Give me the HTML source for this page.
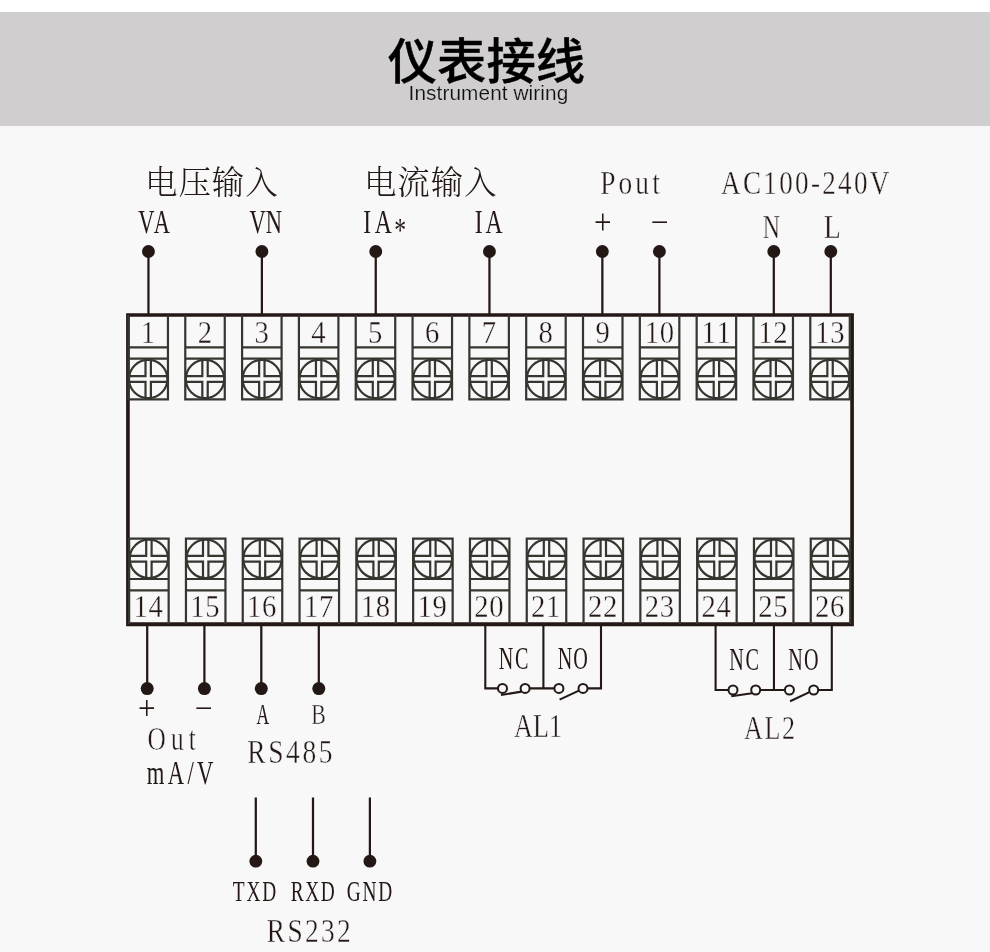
<!DOCTYPE html>
<html lang="zh-CN">
<head>
<meta charset="utf-8">
<title>仪表接线 Instrument wiring</title>
<style>
html,body{margin:0;padding:0}
body{width:990px;height:952px;position:relative;overflow:hidden;background:#f8f8f8;color:#231815;font-family:"Liberation Sans","Noto Sans CJK SC",sans-serif}
.strip{position:absolute;left:0;top:0;width:990px;height:12px;background:#fff}
.band{position:absolute;left:0;top:11.7px;width:990px;height:114.3px;background:#d0cece}
svg{position:absolute;left:0;top:0;width:990px;height:952px;display:block;will-change:transform}
svg text{font-family:"Liberation Serif","Noto Serif CJK SC",serif;fill:#231815}
svg text.m{text-anchor:middle}
svg text{font-kerning:none}
svg .num text,svg .lab text.t{stroke:#f8f8f8;stroke-width:0.35px;vector-effect:non-scaling-stroke;paint-order:fill stroke}
svg text.ttl{font-family:"Liberation Sans","Noto Sans CJK SC",sans-serif;font-weight:500;fill:#000;stroke:#000;stroke-width:0.4px;stroke-linejoin:round;text-anchor:middle}
svg text.sub{font-family:"Liberation Sans","Noto Sans CJK SC",sans-serif;font-weight:400;fill:#111;text-anchor:middle;stroke:#d0cece;stroke-width:0.2px;paint-order:fill stroke}

svg text.cjk{font-family:"Liberation Serif","Noto Serif CJK SC",serif;font-weight:300}
</style>
</head>
<body>
<div class="strip"></div>
<div class="band"></div>
<svg width="990" height="952" viewBox="0 0 990 952">
<text class="ttl" x="486.4" y="79" font-size="49.3">仪表接线</text>
<text class="sub" x="488.45" y="99.6" font-size="20.8" letter-spacing="0.08">Instrument wiring</text>
<g fill="none" stroke="#231815" stroke-width="2.25">
<path d="M148.45 251V314"/>
<path d="M261.9 251V314"/>
<path d="M375.75 251V314"/>
<path d="M489.45 251V314"/>
<path d="M602.35 251V314"/>
<path d="M659.4 251V314"/>
<path d="M773.8 251V314"/>
<path d="M830.8 251V314"/>
<path d="M147.2 625V689"/>
<path d="M204.4 625V689"/>
<path d="M261.3 625V689"/>
<path d="M318.8 625V689"/>
<path d="M255.8 797.5V861"/>
<path d="M313 797.5V861"/>
<path d="M369.9 797.5V861"/>
</g>
<g fill="#231815">
<circle cx="148.45" cy="251.5" r="6.45"/>
<circle cx="261.9" cy="251.5" r="6.45"/>
<circle cx="375.75" cy="251.5" r="6.45"/>
<circle cx="489.45" cy="251.5" r="6.45"/>
<circle cx="602.35" cy="251.5" r="6.45"/>
<circle cx="659.4" cy="251.5" r="6.45"/>
<circle cx="773.8" cy="251.5" r="6.45"/>
<circle cx="830.8" cy="251.5" r="6.45"/>
<circle cx="147.2" cy="688.6" r="6.5"/>
<circle cx="204.4" cy="688.6" r="6.5"/>
<circle cx="261.3" cy="688.6" r="6.5"/>
<circle cx="318.8" cy="688.6" r="6.5"/>
<circle cx="255.8" cy="861.2" r="6.4"/>
<circle cx="313" cy="861.2" r="6.4"/>
<circle cx="369.9" cy="861.2" r="6.4"/>
</g>
<path d="M485.3 625V688.4H498M529.6 688.4H554.4M543.4 625V689.45M587.5 688.4H601V625" fill="none" stroke="#231815" stroke-width="2.1"/>
<path d="M501 695L521.5 691.6M559.6 699.6L579.5 690.4" fill="none" stroke="#231815" stroke-width="2.1"/>
<circle cx="502.5" cy="688.4" r="4.5" fill="#f8f8f8" stroke="#231815" stroke-width="2"/>
<circle cx="525.1" cy="688.4" r="4.5" fill="#f8f8f8" stroke="#231815" stroke-width="2"/>
<circle cx="558.9" cy="688.4" r="4.5" fill="#f8f8f8" stroke="#231815" stroke-width="2"/>
<circle cx="583" cy="688.4" r="4.5" fill="#f8f8f8" stroke="#231815" stroke-width="2"/>
<path d="M715.6 625V690H728.5M760.2 690H784.9M773.95 625V691.05M818.2 690H831.8V625" fill="none" stroke="#231815" stroke-width="2.1"/>
<path d="M731.3 696.3L752 693.3M790.1 701.3L810 691.9" fill="none" stroke="#231815" stroke-width="2.1"/>
<circle cx="733" cy="690" r="4.5" fill="#f8f8f8" stroke="#231815" stroke-width="2"/>
<circle cx="755.7" cy="690" r="4.5" fill="#f8f8f8" stroke="#231815" stroke-width="2"/>
<circle cx="789.4" cy="690" r="4.5" fill="#f8f8f8" stroke="#231815" stroke-width="2"/>
<circle cx="813.7" cy="690" r="4.5" fill="#f8f8f8" stroke="#231815" stroke-width="2"/>
<path d="M126.1 313.15H853.9V626.3H126.1ZM129.75 316.8V622.25H850.25V316.8Z" fill="#231815" fill-rule="evenodd"/>
<g fill="none" stroke="#35362f" stroke-width="2.2" stroke-linecap="square">
<path d="M128.45 316V399.4M167.95 316V399.4M128.45 347.3H167.95M128.45 358.6H167.95M128.45 399.4H167.95"/>
<path stroke-linecap="butt" d="M145.5 359V376.1H128.45M150.9 359V376.1H167.95M145.5 399V381.9H128.45M150.9 399V381.9H167.95"/>
<circle cx="148.2" cy="379" r="19.2"/>
<path d="M185.27 316V399.4M224.77 316V399.4M185.27 347.3H224.77M185.27 358.6H224.77M185.27 399.4H224.77"/>
<path stroke-linecap="butt" d="M202.32 359V376.1H185.27M207.72 359V376.1H224.77M202.32 399V381.9H185.27M207.72 399V381.9H224.77"/>
<circle cx="205.02" cy="379" r="19.2"/>
<path d="M242.09 316V399.4M281.59 316V399.4M242.09 347.3H281.59M242.09 358.6H281.59M242.09 399.4H281.59"/>
<path stroke-linecap="butt" d="M259.14 359V376.1H242.09M264.54 359V376.1H281.59M259.14 399V381.9H242.09M264.54 399V381.9H281.59"/>
<circle cx="261.84" cy="379" r="19.2"/>
<path d="M298.91 316V399.4M338.41 316V399.4M298.91 347.3H338.41M298.91 358.6H338.41M298.91 399.4H338.41"/>
<path stroke-linecap="butt" d="M315.96 359V376.1H298.91M321.36 359V376.1H338.41M315.96 399V381.9H298.91M321.36 399V381.9H338.41"/>
<circle cx="318.66" cy="379" r="19.2"/>
<path d="M355.73 316V399.4M395.23 316V399.4M355.73 347.3H395.23M355.73 358.6H395.23M355.73 399.4H395.23"/>
<path stroke-linecap="butt" d="M372.78 359V376.1H355.73M378.18 359V376.1H395.23M372.78 399V381.9H355.73M378.18 399V381.9H395.23"/>
<circle cx="375.48" cy="379" r="19.2"/>
<path d="M412.55 316V399.4M452.05 316V399.4M412.55 347.3H452.05M412.55 358.6H452.05M412.55 399.4H452.05"/>
<path stroke-linecap="butt" d="M429.6 359V376.1H412.55M435 359V376.1H452.05M429.6 399V381.9H412.55M435 399V381.9H452.05"/>
<circle cx="432.3" cy="379" r="19.2"/>
<path d="M469.37 316V399.4M508.87 316V399.4M469.37 347.3H508.87M469.37 358.6H508.87M469.37 399.4H508.87"/>
<path stroke-linecap="butt" d="M486.42 359V376.1H469.37M491.82 359V376.1H508.87M486.42 399V381.9H469.37M491.82 399V381.9H508.87"/>
<circle cx="489.12" cy="379" r="19.2"/>
<path d="M526.19 316V399.4M565.69 316V399.4M526.19 347.3H565.69M526.19 358.6H565.69M526.19 399.4H565.69"/>
<path stroke-linecap="butt" d="M543.24 359V376.1H526.19M548.64 359V376.1H565.69M543.24 399V381.9H526.19M548.64 399V381.9H565.69"/>
<circle cx="545.94" cy="379" r="19.2"/>
<path d="M583.01 316V399.4M622.51 316V399.4M583.01 347.3H622.51M583.01 358.6H622.51M583.01 399.4H622.51"/>
<path stroke-linecap="butt" d="M600.06 359V376.1H583.01M605.46 359V376.1H622.51M600.06 399V381.9H583.01M605.46 399V381.9H622.51"/>
<circle cx="602.76" cy="379" r="19.2"/>
<path d="M639.83 316V399.4M679.33 316V399.4M639.83 347.3H679.33M639.83 358.6H679.33M639.83 399.4H679.33"/>
<path stroke-linecap="butt" d="M656.88 359V376.1H639.83M662.28 359V376.1H679.33M656.88 399V381.9H639.83M662.28 399V381.9H679.33"/>
<circle cx="659.58" cy="379" r="19.2"/>
<path d="M696.65 316V399.4M736.15 316V399.4M696.65 347.3H736.15M696.65 358.6H736.15M696.65 399.4H736.15"/>
<path stroke-linecap="butt" d="M713.7 359V376.1H696.65M719.1 359V376.1H736.15M713.7 399V381.9H696.65M719.1 399V381.9H736.15"/>
<circle cx="716.4" cy="379" r="19.2"/>
<path d="M753.47 316V399.4M792.97 316V399.4M753.47 347.3H792.97M753.47 358.6H792.97M753.47 399.4H792.97"/>
<path stroke-linecap="butt" d="M770.52 359V376.1H753.47M775.92 359V376.1H792.97M770.52 399V381.9H753.47M775.92 399V381.9H792.97"/>
<circle cx="773.22" cy="379" r="19.2"/>
<path d="M810.29 316V399.4M849.79 316V399.4M810.29 347.3H849.79M810.29 358.6H849.79M810.29 399.4H849.79"/>
<path stroke-linecap="butt" d="M827.34 359V376.1H810.29M832.74 359V376.1H849.79M827.34 399V381.9H810.29M832.74 399V381.9H849.79"/>
<circle cx="830.04" cy="379" r="19.2"/>
<path d="M129.15 538.6V623M168.65 538.6V623M129.15 538.6H168.65M129.15 579H168.65M129.15 590.4H168.65"/>
<path stroke-linecap="butt" d="M146.2 538.8V555.9H129.15M151.6 538.8V555.9H168.65M146.2 578.8V561.7H129.15M151.6 578.8V561.7H168.65"/>
<circle cx="148.9" cy="558.8" r="19.2"/>
<path d="M185.95 538.6V623M225.45 538.6V623M185.95 538.6H225.45M185.95 579H225.45M185.95 590.4H225.45"/>
<path stroke-linecap="butt" d="M203 538.8V555.9H185.95M208.4 538.8V555.9H225.45M203 578.8V561.7H185.95M208.4 578.8V561.7H225.45"/>
<circle cx="205.7" cy="558.8" r="19.2"/>
<path d="M242.75 538.6V623M282.25 538.6V623M242.75 538.6H282.25M242.75 579H282.25M242.75 590.4H282.25"/>
<path stroke-linecap="butt" d="M259.8 538.8V555.9H242.75M265.2 538.8V555.9H282.25M259.8 578.8V561.7H242.75M265.2 578.8V561.7H282.25"/>
<circle cx="262.5" cy="558.8" r="19.2"/>
<path d="M299.55 538.6V623M339.05 538.6V623M299.55 538.6H339.05M299.55 579H339.05M299.55 590.4H339.05"/>
<path stroke-linecap="butt" d="M316.6 538.8V555.9H299.55M322 538.8V555.9H339.05M316.6 578.8V561.7H299.55M322 578.8V561.7H339.05"/>
<circle cx="319.3" cy="558.8" r="19.2"/>
<path d="M356.35 538.6V623M395.85 538.6V623M356.35 538.6H395.85M356.35 579H395.85M356.35 590.4H395.85"/>
<path stroke-linecap="butt" d="M373.4 538.8V555.9H356.35M378.8 538.8V555.9H395.85M373.4 578.8V561.7H356.35M378.8 578.8V561.7H395.85"/>
<circle cx="376.1" cy="558.8" r="19.2"/>
<path d="M413.15 538.6V623M452.65 538.6V623M413.15 538.6H452.65M413.15 579H452.65M413.15 590.4H452.65"/>
<path stroke-linecap="butt" d="M430.2 538.8V555.9H413.15M435.6 538.8V555.9H452.65M430.2 578.8V561.7H413.15M435.6 578.8V561.7H452.65"/>
<circle cx="432.9" cy="558.8" r="19.2"/>
<path d="M469.95 538.6V623M509.45 538.6V623M469.95 538.6H509.45M469.95 579H509.45M469.95 590.4H509.45"/>
<path stroke-linecap="butt" d="M487 538.8V555.9H469.95M492.4 538.8V555.9H509.45M487 578.8V561.7H469.95M492.4 578.8V561.7H509.45"/>
<circle cx="489.7" cy="558.8" r="19.2"/>
<path d="M526.75 538.6V623M566.25 538.6V623M526.75 538.6H566.25M526.75 579H566.25M526.75 590.4H566.25"/>
<path stroke-linecap="butt" d="M543.8 538.8V555.9H526.75M549.2 538.8V555.9H566.25M543.8 578.8V561.7H526.75M549.2 578.8V561.7H566.25"/>
<circle cx="546.5" cy="558.8" r="19.2"/>
<path d="M583.55 538.6V623M623.05 538.6V623M583.55 538.6H623.05M583.55 579H623.05M583.55 590.4H623.05"/>
<path stroke-linecap="butt" d="M600.6 538.8V555.9H583.55M606 538.8V555.9H623.05M600.6 578.8V561.7H583.55M606 578.8V561.7H623.05"/>
<circle cx="603.3" cy="558.8" r="19.2"/>
<path d="M640.35 538.6V623M679.85 538.6V623M640.35 538.6H679.85M640.35 579H679.85M640.35 590.4H679.85"/>
<path stroke-linecap="butt" d="M657.4 538.8V555.9H640.35M662.8 538.8V555.9H679.85M657.4 578.8V561.7H640.35M662.8 578.8V561.7H679.85"/>
<circle cx="660.1" cy="558.8" r="19.2"/>
<path d="M697.15 538.6V623M736.65 538.6V623M697.15 538.6H736.65M697.15 579H736.65M697.15 590.4H736.65"/>
<path stroke-linecap="butt" d="M714.2 538.8V555.9H697.15M719.6 538.8V555.9H736.65M714.2 578.8V561.7H697.15M719.6 578.8V561.7H736.65"/>
<circle cx="716.9" cy="558.8" r="19.2"/>
<path d="M753.95 538.6V623M793.45 538.6V623M753.95 538.6H793.45M753.95 579H793.45M753.95 590.4H793.45"/>
<path stroke-linecap="butt" d="M771 538.8V555.9H753.95M776.4 538.8V555.9H793.45M771 578.8V561.7H753.95M776.4 578.8V561.7H793.45"/>
<circle cx="773.7" cy="558.8" r="19.2"/>
<path d="M810.75 538.6V623M850.25 538.6V623M810.75 538.6H850.25M810.75 579H850.25M810.75 590.4H850.25"/>
<path stroke-linecap="butt" d="M827.8 538.8V555.9H810.75M833.2 538.8V555.9H850.25M827.8 578.8V561.7H810.75M833.2 578.8V561.7H850.25"/>
<circle cx="830.5" cy="558.8" r="19.2"/>
</g>
<g class="num">
<text class="m" transform="scale(0.92,1)" font-size="31.2" x="160.87" y="343">1</text>
<text class="m" transform="scale(0.92,1)" font-size="31.2" x="222.63" y="343">2</text>
<text class="m" transform="scale(0.92,1)" font-size="31.2" x="284.39" y="343">3</text>
<text class="m" transform="scale(0.92,1)" font-size="31.2" x="346.15" y="343">4</text>
<text class="m" transform="scale(0.92,1)" font-size="31.2" x="407.91" y="343">5</text>
<text class="m" transform="scale(0.92,1)" font-size="31.2" x="469.67" y="343">6</text>
<text class="m" transform="scale(0.92,1)" font-size="31.2" x="531.43" y="343">7</text>
<text class="m" transform="scale(0.92,1)" font-size="31.2" x="593.2" y="343">8</text>
<text class="m" transform="scale(0.92,1)" font-size="31.2" x="654.96" y="343">9</text>
<text class="m" transform="scale(0.92,1)" font-size="31.2" x="708.57 724.87" y="343">10</text>
<text class="m" transform="scale(0.92,1)" font-size="31.2" x="770.33 786.63" y="343">11</text>
<text class="m" transform="scale(0.92,1)" font-size="31.2" x="832.09 848.39" y="343">12</text>
<text class="m" transform="scale(0.92,1)" font-size="31.2" x="893.85 910.15" y="343">13</text>
<text class="m" transform="scale(0.92,1)" font-size="31.2" x="152.93 169.24" y="616.9">14</text>
<text class="m" transform="scale(0.92,1)" font-size="31.2" x="214.67 230.98" y="616.9">15</text>
<text class="m" transform="scale(0.92,1)" font-size="31.2" x="276.41 292.72" y="616.9">16</text>
<text class="m" transform="scale(0.92,1)" font-size="31.2" x="338.15 354.46" y="616.9">17</text>
<text class="m" transform="scale(0.92,1)" font-size="31.2" x="399.89 416.2" y="616.9">18</text>
<text class="m" transform="scale(0.92,1)" font-size="31.2" x="461.63 477.93" y="616.9">19</text>
<text class="m" transform="scale(0.92,1)" font-size="31.2" x="523.37 539.67" y="616.9">20</text>
<text class="m" transform="scale(0.92,1)" font-size="31.2" x="585.11 601.41" y="616.9">21</text>
<text class="m" transform="scale(0.92,1)" font-size="31.2" x="646.85 663.15" y="616.9">22</text>
<text class="m" transform="scale(0.92,1)" font-size="31.2" x="708.59 724.89" y="616.9">23</text>
<text class="m" transform="scale(0.92,1)" font-size="31.2" x="770.33 786.63" y="616.9">24</text>
<text class="m" transform="scale(0.92,1)" font-size="31.2" x="832.07 848.37" y="616.9">25</text>
<text class="m" transform="scale(0.92,1)" font-size="31.2" x="893.8 910.11" y="616.9">26</text>
</g>
<text class="cjk" font-size="32.5" letter-spacing="0.85" x="145.1" y="194.1">电压输入</text>
<text class="cjk" font-size="32.5" letter-spacing="0.85" x="364.0" y="194.1">电流输入</text>
<g class="lab">
<text class="m" transform="scale(0.69,1)" font-size="34.3" x="532.25 555.36 580.14" y="232.7 232.7 240.6">IA*</text>
<text class="m" transform="scale(0.69,1)" font-size="34.3" x="693.77 716.09" y="232.7 232.7">IA</text>
<text transform="scale(0.655,1)" x="210.99" y="232.7" font-size="34.3" letter-spacing="-0.87">VA</text>
<text transform="scale(0.655,1)" x="380.92" y="232.7" font-size="34.3" letter-spacing="-0.03">VN</text>
<text class="t" transform="scale(0.8,1)" x="750.21" y="193.7" font-size="34.3" letter-spacing="3.88">Pout</text>
<text transform="scale(0.9081,1.04)" x="654.07" y="225.38" font-size="34.3">+</text>
<text transform="scale(1.6464,0.62)" x="394.89" y="366.77" font-size="34.3">-</text>
<text class="t" transform="scale(0.79,1)" x="912.66" y="194.2" font-size="34.3" letter-spacing="2.95">AC100-240V</text>
<text class="t" transform="scale(0.6955,1)" x="1096.71" y="238.2" font-size="34.3">N</text>
<text class="t" transform="scale(0.8157,1)" x="1009.93" y="238.2" font-size="34.3">L</text>
<text transform="scale(0.9081,1)" x="151.91" y="718.8" font-size="34.3">+</text>
<text transform="scale(1.6464,0.62)" x="117.92" y="1150" font-size="34.3">-</text>
<text transform="scale(0.5922,1)" x="433.1" y="724.5" font-size="29.6">A</text>
<text class="t" transform="scale(0.7374,1)" x="421.99" y="724.5" font-size="29.6">B</text>
<text class="t" transform="scale(0.74,1)" x="199.33" y="750" font-size="34.3" letter-spacing="6.91">Out</text>
<text transform="scale(0.66,1)" x="222.49" y="783.9" font-size="34.3" letter-spacing="5.02">mA/V</text>
<text class="t" transform="scale(0.8,1)" x="309.09" y="763.3" font-size="34.3" letter-spacing="3.3">RS485</text>
<text transform="scale(0.655,1)" x="355.42" y="900.6" font-size="29.6" letter-spacing="2.77">TXD</text>
<text transform="scale(0.655,1)" x="443.96" y="900.6" font-size="29.6" letter-spacing="2.32">RXD</text>
<text transform="scale(0.655,1)" x="529.3" y="900.6" font-size="29.6" letter-spacing="2.8">GND</text>
<text class="t" transform="scale(0.8,1)" x="333.46" y="941.6" font-size="34.3" letter-spacing="2.93">RS232</text>
<text transform="scale(0.655,1)" x="761.5" y="668.8" font-size="30.8" letter-spacing="2.65">NC</text>
<text transform="scale(0.655,1)" x="851.58" y="668.8" font-size="30.8" letter-spacing="1.49">NO</text>
<text transform="scale(0.655,1)" x="1113.41" y="670" font-size="30.8" letter-spacing="2.65">NC</text>
<text transform="scale(0.655,1)" x="1203.49" y="670" font-size="30.8" letter-spacing="1.95">NO</text>
<text class="t" transform="scale(0.76,1)" x="676.45" y="737.3" font-size="34.3" letter-spacing="0.09">AL1</text>
<text class="t" transform="scale(0.76,1)" x="979.08" y="738.6" font-size="34.3" letter-spacing="2">AL2</text>
</g>
</svg>
</body>
</html>
